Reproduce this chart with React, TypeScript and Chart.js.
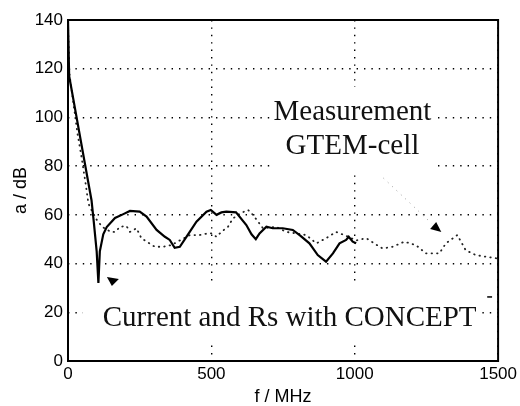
import React, { useEffect, useRef } from "react";
import { Chart, registerables } from "chart.js";

Chart.register(...registerables);

// Axis ranges and tick labels
const X_MIN = 0;
const X_MAX = 1500;
const Y_MIN = 0;
const Y_MAX = 140;
const xTicks = [0, 500, 1000, 1500];
const yTicks = [0, 20, 40, 60, 80, 100, 120, 140];

// Solid: "Current and Rs with CONCEPT"
const conceptF = [0, 4, 30, 59, 82, 90, 100, 106, 111, 123, 135, 164, 193, 216, 250, 274, 309, 338, 355, 372, 390, 413, 448, 483, 498, 518, 535, 552, 586, 622, 640, 655, 668, 692, 714, 749, 784, 810, 842, 871, 900, 924, 947, 970, 979, 993, 1005];
const conceptA = [140, 117, 100, 81, 66, 57, 45, 32, 45, 52, 55, 58.7, 60.3, 61.6, 61.3, 59.3, 53.8, 51, 49.7, 46.5, 46.9, 51, 57.2, 61.3, 62, 60, 61, 61.3, 61, 55.8, 52, 50, 52.4, 55.1, 54.5, 54.5, 53.8, 51.5, 48.3, 43.5, 40.8, 44.2, 48.3, 49.7, 51, 49, 48.3];

// Dotted: "Measurement GTEM-cell"
const measF = [0, 5, 33, 47, 63, 71, 82, 100, 120, 150, 165, 181, 204, 216, 239, 256, 274, 303, 332, 361, 390, 425, 459, 488, 500, 518, 535, 558, 575, 600, 628, 645, 680, 726, 761, 795, 831, 866, 900, 935, 964, 1005, 1040, 1068, 1097, 1132, 1173, 1213, 1248, 1295, 1318, 1358, 1387, 1422, 1457, 1492, 1500];
const measA = [138, 118, 93.4, 83.9, 71.6, 64.7, 62, 58, 55, 53, 53, 55.1, 55.4, 53, 54.5, 50.4, 49, 46.9, 46.9, 47.6, 49.5, 51.7, 51.7, 52.4, 52.4, 51, 53, 55.1, 58.5, 60.6, 62, 60, 54.5, 55.1, 53, 52.4, 51.7, 48.3, 50.4, 53, 51.7, 49.5, 50.4, 48.3, 46.2, 46.9, 49, 47.6, 44.2, 44.2, 48.3, 51.7, 45.5, 43.5, 42.8, 42.2, 42];

// Annotation texts
const measLabel = ["Measurement", "GTEM-cell"];
const conceptLabel = "Current and Rs with CONCEPT";

const toPts = (xs: number[], ys: number[]) => xs.map((x, i) => ({ x, y: ys[i] }));

const annotationPlugin = {
  id: "annotations",
  beforeDatasetsDraw(chart: any) {
    const { ctx, scales } = chart;
    const xs = scales.x;
    const ys = scales.y;
    const px = (v: number) => xs.getPixelForValue(v);
    const py = (v: number) => ys.getPixelForValue(v);
    ctx.save();
    ctx.fillStyle = "#ffffff";
    // white backgrounds behind the labels (data units)
    ctx.fillRect(px(720), py(112.5), px(1274) - px(720), py(77.2) - py(112.5));
    ctx.fillRect(px(52), py(31.2), px(1430) - px(52), py(7.4) - py(31.2));
    ctx.fillStyle = "#111111";
    ctx.font = "29px 'Liberation Serif', 'Times New Roman', serif";
    ctx.textAlign = "center";
    ctx.textBaseline = "alphabetic";
    ctx.fillText(measLabel[0], px(992), py(98.9));
    ctx.fillText(measLabel[1], px(992), py(85.0));
    ctx.fillText(conceptLabel, px(773), py(14.5));
    ctx.restore();
  },
  afterDatasetsDraw(chart: any) {
    const { ctx, scales } = chart;
    const xs = scales.x;
    const ys = scales.y;
    const px = (v: number) => xs.getPixelForValue(v);
    const py = (v: number) => ys.getPixelForValue(v);
    ctx.save();
    // leader line (faint)
    ctx.strokeStyle = "#9a9a9a";
    ctx.lineWidth = 1;
    ctx.setLineDash([1, 5]);
    ctx.beginPath();
    ctx.moveTo(px(1100), py(75.1));
    ctx.lineTo(px(1268), py(56.5));
    ctx.stroke();
    ctx.setLineDash([]);
    // arrow heads
    ctx.fillStyle = "#000";
    ctx.beginPath();
    ctx.moveTo(px(135.7), py(34.5));
    ctx.lineTo(px(177.5), py(33.7));
    ctx.lineTo(px(153), py(30.8));
    ctx.closePath();
    ctx.fill();
    ctx.beginPath();
    ctx.moveTo(px(1284), py(57.1));
    ctx.lineTo(px(1263), py(54.2));
    ctx.lineTo(px(1302), py(53.0));
    ctx.closePath();
    ctx.fill();
    // small dash
    ctx.strokeStyle = "#000";
    ctx.lineWidth = 1.5;
    ctx.beginPath();
    ctx.moveTo(px(1462), py(26.3));
    ctx.lineTo(px(1479), py(26.3));
    ctx.stroke();
    ctx.restore();
  },
  afterDraw(chart: any) {
    const { ctx, chartArea } = chart;
    ctx.save();
    ctx.strokeStyle = "#000";
    ctx.lineWidth = 2;
    ctx.strokeRect(chartArea.left, chartArea.top, chartArea.right - chartArea.left, chartArea.bottom - chartArea.top);
    ctx.restore();
  },
};

export default function App() {
  const ref = useRef<HTMLCanvasElement | null>(null);
  useEffect(() => {
    if (!ref.current) return;
    const tickFont = { family: "'Liberation Sans', Arial, sans-serif", size: 17 };
    const chart = new Chart(ref.current, {
      type: "line",
      data: {
        datasets: [
          {
            label: "Current and Rs with CONCEPT",
            data: toPts(conceptF, conceptA),
            borderColor: "#000",
            borderWidth: 2.2,
            pointRadius: 0,
            tension: 0,
            fill: false,
          },
          {
            label: "Measurement GTEM-cell",
            data: toPts(measF, measA),
            borderColor: "#222",
            borderWidth: 1.8,
            borderDash: [0.5, 5],
            borderCapStyle: "round",
            pointRadius: 0,
            tension: 0,
            fill: false,
          },
        ],
      },
      options: {
        responsive: false,
        animation: false,
        layout: { padding: { left: 0, right: 21, top: 20, bottom: 0 } },
        plugins: { legend: { display: false }, tooltip: { enabled: false } },
        scales: {
          x: {
            type: "linear",
            min: X_MIN,
            max: X_MAX,
            afterBuildTicks: (s: any) => {
              s.ticks = xTicks.map((v) => ({ value: v }));
            },
            afterFit: (s: any) => {
              s.height = 45;
            },
            grid: { color: "#000", lineWidth: 1.4, drawTicks: false },
            border: { display: false, dash: [1.4, 6] },
            ticks: { color: "#000", font: tickFont, padding: 3, maxRotation: 0, callback: (v: any) => String(v) },
            title: {
              display: true,
              text: "f / MHz",
              color: "#000",
              font: { family: "'Liberation Sans', Arial, sans-serif", size: 18, lineHeight: 1 },
              padding: { top: 0, bottom: 0 },
            },
          },
          y: {
            type: "linear",
            min: Y_MIN,
            max: Y_MAX,
            afterBuildTicks: (s: any) => {
              s.ticks = yTicks.map((v) => ({ value: v }));
            },
            afterFit: (s: any) => {
              s.width = 68;
            },
            grid: { color: "#000", lineWidth: 1.4, drawTicks: false },
            border: { display: false, dash: [1.4, 6] },
            ticks: { color: "#000", font: tickFont, padding: 5, callback: (v: any) => String(v) },
            title: {
              display: true,
              text: "a / dB",
              color: "#000",
              font: { family: "'Liberation Sans', Arial, sans-serif", size: 18, lineHeight: 1 },
              padding: { top: 12, bottom: 0 },
            },
          },
        },
      },
      plugins: [annotationPlugin],
    } as any);
    return () => chart.destroy();
  }, []);
  return (
    <div style={{ position: "absolute", left: 0, top: 0, width: 520, height: 406, background: "#fff" }}>
      <canvas ref={ref} width={520} height={406} />
    </div>
  );
}
